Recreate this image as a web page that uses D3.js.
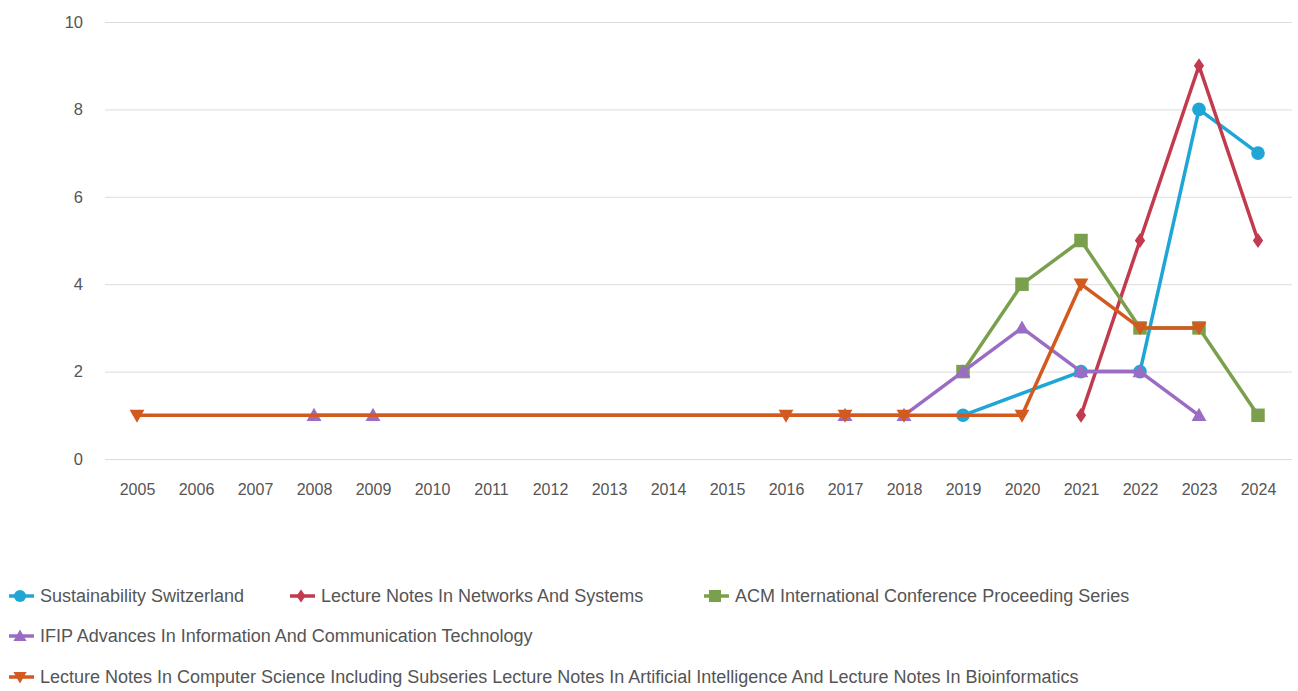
<!DOCTYPE html>
<html>
<head>
<meta charset="utf-8">
<script src="https://cdn.jsdelivr.net/npm/d3@7/dist/d3.min.js"></script>
<style>
  html, body { margin: 0; padding: 0; background: #fff; }
  svg { display: block; font-family: "Liberation Sans", Arial, sans-serif; }
</style>
</head>
<body>
<svg id="chart" width="1298" height="691"></svg>
<script>
const years = ["2005","2006","2007","2008","2009","2010","2011","2012","2013","2014","2015","2016","2017","2018","2019","2020","2021","2022","2023","2024"];
const yTicks = [0, 2, 4, 6, 8, 10];

const seriesNames = [
  "Sustainability Switzerland",
  "Lecture Notes In Networks And Systems",
  "ACM International Conference Proceeding Series",
  "IFIP Advances In Information And Communication Technology",
  "Lecture Notes In Computer Science Including Subseries Lecture Notes In Artificial Intelligence And Lecture Notes In Bioinformatics"
];
//                      2005  06    07    08    09    10    11    12    13    14    15    16    17    18    19    20    21 22 23 24
const sustainability = [null, null, null, null, null, null, null, null, null, null, null, null, null, null, 1,    null, 2, 2, 8, 7];
const networks       = [null, null, null, null, null, null, null, null, null, null, null, null, null, null, null, null, 1, 5, 9, 5];
const acm            = [null, null, null, null, null, null, null, null, null, null, null, null, null, null, 2,    4,    5, 3, 3, 1];
const ifip           = [null, null, null, 1,    1,    null, null, null, null, null, null, null, 1,    1,    2,    3,    2, 2, 1, null];
const lncs           = [1,    null, null, null, null, null, null, null, null, null, null, 1,    1,    1,    null, 1,    4, 3, 3, null];

const seriesValues = [sustainability, networks, acm, ifip, lncs];
const colors = ["#1fa6d6", "#c23a4e", "#7aa04d", "#9b6cc4", "#d35a1e"];
const symbols = ["circle", "diamond", "square", "triangleUp", "triangleDown"];

const svg = d3.select("#chart");
const W = 1298, H = 691;
svg.append("rect").attr("width", W).attr("height", H).attr("fill", "#fff");

const x = d3.scalePoint().domain(years).range([137, 1258]);
const y = d3.scaleLinear().domain([0, 10]).range([459, 22]);

// gridlines
const yAxis = d3.axisLeft(y).tickValues(yTicks).tickSize(-(1292 - 105)).tickPadding(22);
const gy = svg.append("g").attr("transform", "translate(105,0)").call(yAxis);
gy.select(".domain").remove();
gy.selectAll(".tick line").attr("stroke", "#dcdcdc").attr("stroke-width", 1);
gy.selectAll(".tick text").attr("fill", "#555").attr("font-size", 16.5)
  .attr("font-family", "'Liberation Sans', Arial, sans-serif");

// x axis labels
const xAxis = d3.axisBottom(x).tickSize(0).tickPadding(0);
const gx = svg.append("g").attr("transform", "translate(0,484)").call(xAxis);
gx.select(".domain").remove();
gx.selectAll(".tick text").attr("fill", "#555").attr("font-size", 16)
  .attr("font-family", "'Liberation Sans', Arial, sans-serif");

function symPath(kind, size) {
  const s = size;
  switch (kind) {
    case "circle": return d3.symbol(d3.symbolCircle, s * s * 0.8)();
    case "square": return `M${-s/2},${-s/2}H${s/2}V${s/2}H${-s/2}Z`;
    case "diamond": return `M0,${-s*0.55}L${s*0.38},0L0,${s*0.55}L${-s*0.38},0Z`;
    case "triangleUp": return `M0,${-s*0.55}L${s*0.55},${s*0.42}L${-s*0.55},${s*0.42}Z`;
    case "triangleDown": return `M0,${s*0.55}L${s*0.55},${-s*0.42}L${-s*0.55},${-s*0.42}Z`;
  }
}

const line = d3.line()
  .defined(d => d.v !== null)
  .x(d => x(d.year))
  .y(d => y(d.v));

seriesValues.forEach((vals, i) => {
  const pts = years.map((yr, k) => ({ year: yr, v: vals[k] })).filter(d => d.v !== null);
  const g = svg.append("g");
  g.append("path")
    .datum(pts)
    .attr("d", line)
    .attr("fill", "none")
    .attr("stroke", colors[i])
    .attr("stroke-width", 3.5)
    .attr("stroke-linejoin", "round");
  g.selectAll("path.mark")
    .data(pts)
    .join("path")
    .attr("class", "mark")
    .attr("transform", d => `translate(${x(d.year)},${y(d.v)})`)
    .attr("d", symPath(symbols[i], 13.5))
    .attr("fill", colors[i]);
});

// legend
const legendPos = [
  { x: 40, y: 596 },
  { x: 321, y: 596 },
  { x: 735, y: 596 },
  { x: 40, y: 636 },
  { x: 40, y: 677 }
];
seriesNames.forEach((name, i) => {
  const p = legendPos[i];
  const g = svg.append("g").attr("transform", `translate(${p.x},${p.y})`);
  g.append("line").attr("x1", -31).attr("x2", -6).attr("y1", 0).attr("y2", 0)
    .attr("stroke", colors[i]).attr("stroke-width", 3.5);
  g.append("path").attr("transform", "translate(-20,0)")
    .attr("d", symPath(symbols[i], 12)).attr("fill", colors[i]);
  g.append("text").attr("x", 0).attr("y", 0).attr("dy", "0.35em")
    .attr("font-size", 18).attr("fill", "#555").text(name);
});
</script>
</body>
</html>
